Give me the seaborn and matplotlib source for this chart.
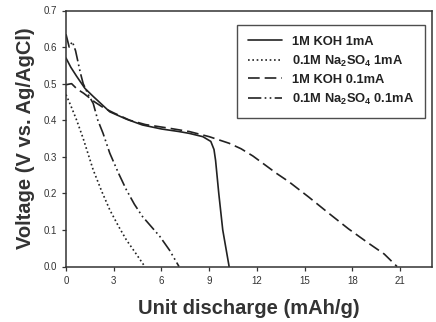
import matplotlib
matplotlib.use("Agg")
import matplotlib.pyplot as plt
import seaborn as sns
import pandas as pd

# Series data
koh_1mA_x = [0, 0.3, 0.67, 1.19, 1.71, 2.75, 3.79, 4.8, 6.0, 7.1, 7.75, 8.6, 9.1, 9.3, 9.4, 9.6, 9.85, 10.25]
koh_1mA_v = [0.57, 0.545, 0.52, 0.487, 0.465, 0.423, 0.403, 0.387, 0.376, 0.369, 0.364, 0.355, 0.342, 0.32, 0.29, 0.20, 0.10, 0.0]

na_1mA_x = [0, 0.3, 0.67, 1.08, 1.71, 2.25, 2.75, 3.3, 3.79, 4.4, 4.95]
na_1mA_v = [0.47, 0.44, 0.40, 0.35, 0.264, 0.205, 0.155, 0.11, 0.073, 0.035, 0.0]

koh_01mA_x = [0, 0.35, 0.7, 1.1, 1.8, 2.4, 3.0, 4.0, 5.0, 6.5, 7.75, 9.0, 10.25, 11.0, 11.75,
              12.5, 13.25, 14.0, 15.25, 16.5, 17.75, 19.0, 20.0, 20.8]
koh_01mA_v = [0.497, 0.50, 0.485, 0.474, 0.45, 0.433, 0.42, 0.40, 0.388, 0.378, 0.369, 0.355,
              0.337, 0.322, 0.302, 0.278, 0.254, 0.232, 0.19, 0.146, 0.103, 0.064, 0.034, 0.0]

na_01mA_x = [0, 0.2, 0.4, 0.6, 0.9, 1.08, 1.4, 1.71, 2.0, 2.33, 2.75, 3.3, 3.79, 4.3, 4.8, 5.9, 6.5, 7.1]
na_01mA_v = [0.635, 0.60, 0.615, 0.59, 0.53, 0.50, 0.47, 0.446, 0.40, 0.364, 0.31, 0.255, 0.21,
             0.17, 0.137, 0.082, 0.045, 0.0]

labels = ["1M KOH 1mA", "0.1M Na$_2$SO$_4$ 1mA", "1M KOH 0.1mA", "0.1M Na$_2$SO$_4$ 0.1mA"]
x_ticks = [0, 3, 6, 9, 12, 15, 18, 21]
y_ticks = [0.0, 0.1, 0.2, 0.3, 0.4, 0.5, 0.6, 0.7]

frames = []
for lab, xs, vs in zip(labels,
                       [koh_1mA_x, na_1mA_x, koh_01mA_x, na_01mA_x],
                       [koh_1mA_v, na_1mA_v, koh_01mA_v, na_01mA_v]):
    frames.append(pd.DataFrame({"x": xs, "v": vs, "series": lab}))
df = pd.concat(frames, ignore_index=True)

sns.set_style("ticks")
plt.rcParams["font.family"] = ["Liberation Sans", "DejaVu Sans"]
plt.rcParams["mathtext.fontset"] = "custom"
plt.rcParams["mathtext.rm"] = "Liberation Sans:bold"
plt.rcParams["mathtext.bf"] = "Liberation Sans:bold"
plt.rcParams["mathtext.default"] = "bf"

fig = plt.figure(figsize=(4.36, 3.22), dpi=100)
ax = fig.add_axes([66 / 436, (322 - 266.5) / 322, (432 - 66) / 436, (266.5 - 10.5) / 322])

line_color = "#222222"
dashes = {
    labels[0]: "",
    labels[1]: (1, 1.6),
    labels[2]: (7, 3),
    labels[3]: (8, 2, 1, 2, 1, 2),
}
palette = {lab: line_color for lab in labels}
sns.lineplot(data=df, x="x", y="v", hue="series", style="series", dashes=dashes,
             palette=palette, hue_order=labels, style_order=labels,
             linewidth=1.2, ax=ax, estimator=None, sort=False)

ax.set_xlim(0, 23)
ax.set_ylim(0, 0.7)
ax.set_xticks(x_ticks)
ax.set_xticklabels([str(t) for t in x_ticks])
ax.set_yticks(y_ticks)
ax.set_yticklabels([f"{t:.1f}" for t in y_ticks])
ax.tick_params(axis="both", labelsize=7, colors="#333333", length=3, width=0.9, direction="out")
for s in ax.spines.values():
    s.set_visible(True)
    s.set_color("#333333")
    s.set_linewidth(1.1)

ax.set_xlabel("Unit discharge (mAh/g)", fontsize=14.5, fontweight="bold", color="#333333", labelpad=10)
ax.set_ylabel("Voltage (V vs. Ag/AgCl)", fontsize=14.5, fontweight="bold", color="#333333", labelpad=6)

handles, labs = ax.get_legend_handles_labels()
leg = ax.legend(handles, labs, loc="upper right",
                bbox_to_anchor=(425 / 436, (322 - 25) / 322), bbox_transform=fig.transFigure,
                borderaxespad=0, fancybox=False, frameon=True, handlelength=2.6,
                prop={"weight": "bold", "size": 9.3}, labelspacing=0.42, borderpad=0.85,
                handletextpad=0.8)
leg.get_frame().set_edgecolor("#222222")
leg.get_frame().set_linewidth(1.0)
for t in leg.get_texts():
    t.set_color("#222222")

fig.savefig("out.png", dpi=100)
